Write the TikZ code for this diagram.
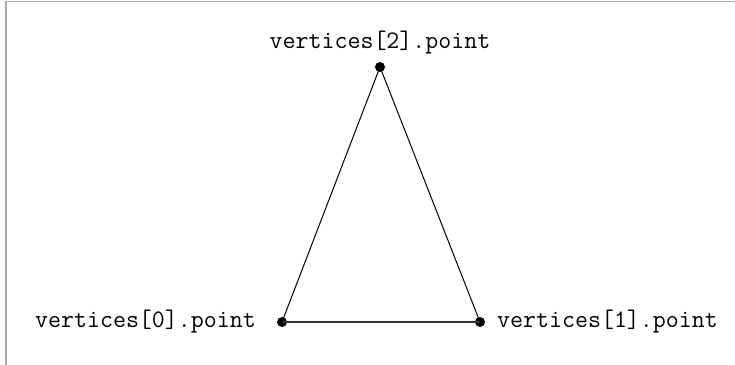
\documentclass[tikz,border=0pt]{standalone}
\begin{document}
\begin{tikzpicture}[x=1pt,y=1pt,
  vdot/.style={circle,fill=black,inner sep=0pt,minimum size=10pt},
  vlabel/.style={font=\ttfamily\fontsize{25.2}{28}\selectfont,inner sep=0pt},
  edge/.style={draw=black,line width=1pt},
  frameline/.style={draw=black!35,line width=1.5pt}]
\useasboundingbox (0,0) rectangle (735,364);
\draw[frameline] (6,-2) -- (6,362.5) -- (737,362.5);
\node[vdot] (v0) at (282,42) {};
\node[vdot] (v1) at (480,42) {};
\node[vdot] (v2) at (380,297) {};
\draw[edge] (v2.center) -- (v0.center);
\draw[edge] (v2.center) -- (v1.center);
\draw[edge,draw=black!80,line width=1.5pt] (v0.center) -- (v1.center);
\node[vlabel,anchor=base east] (l0) at (256,37) {vertices[0].point};
\node[vlabel,anchor=base west] (l1) at (497,37) {vertices[1].point};
\node[vlabel,anchor=base] (l2) at (380,315) {vertices[2].point};
\end{tikzpicture}
\end{document}
